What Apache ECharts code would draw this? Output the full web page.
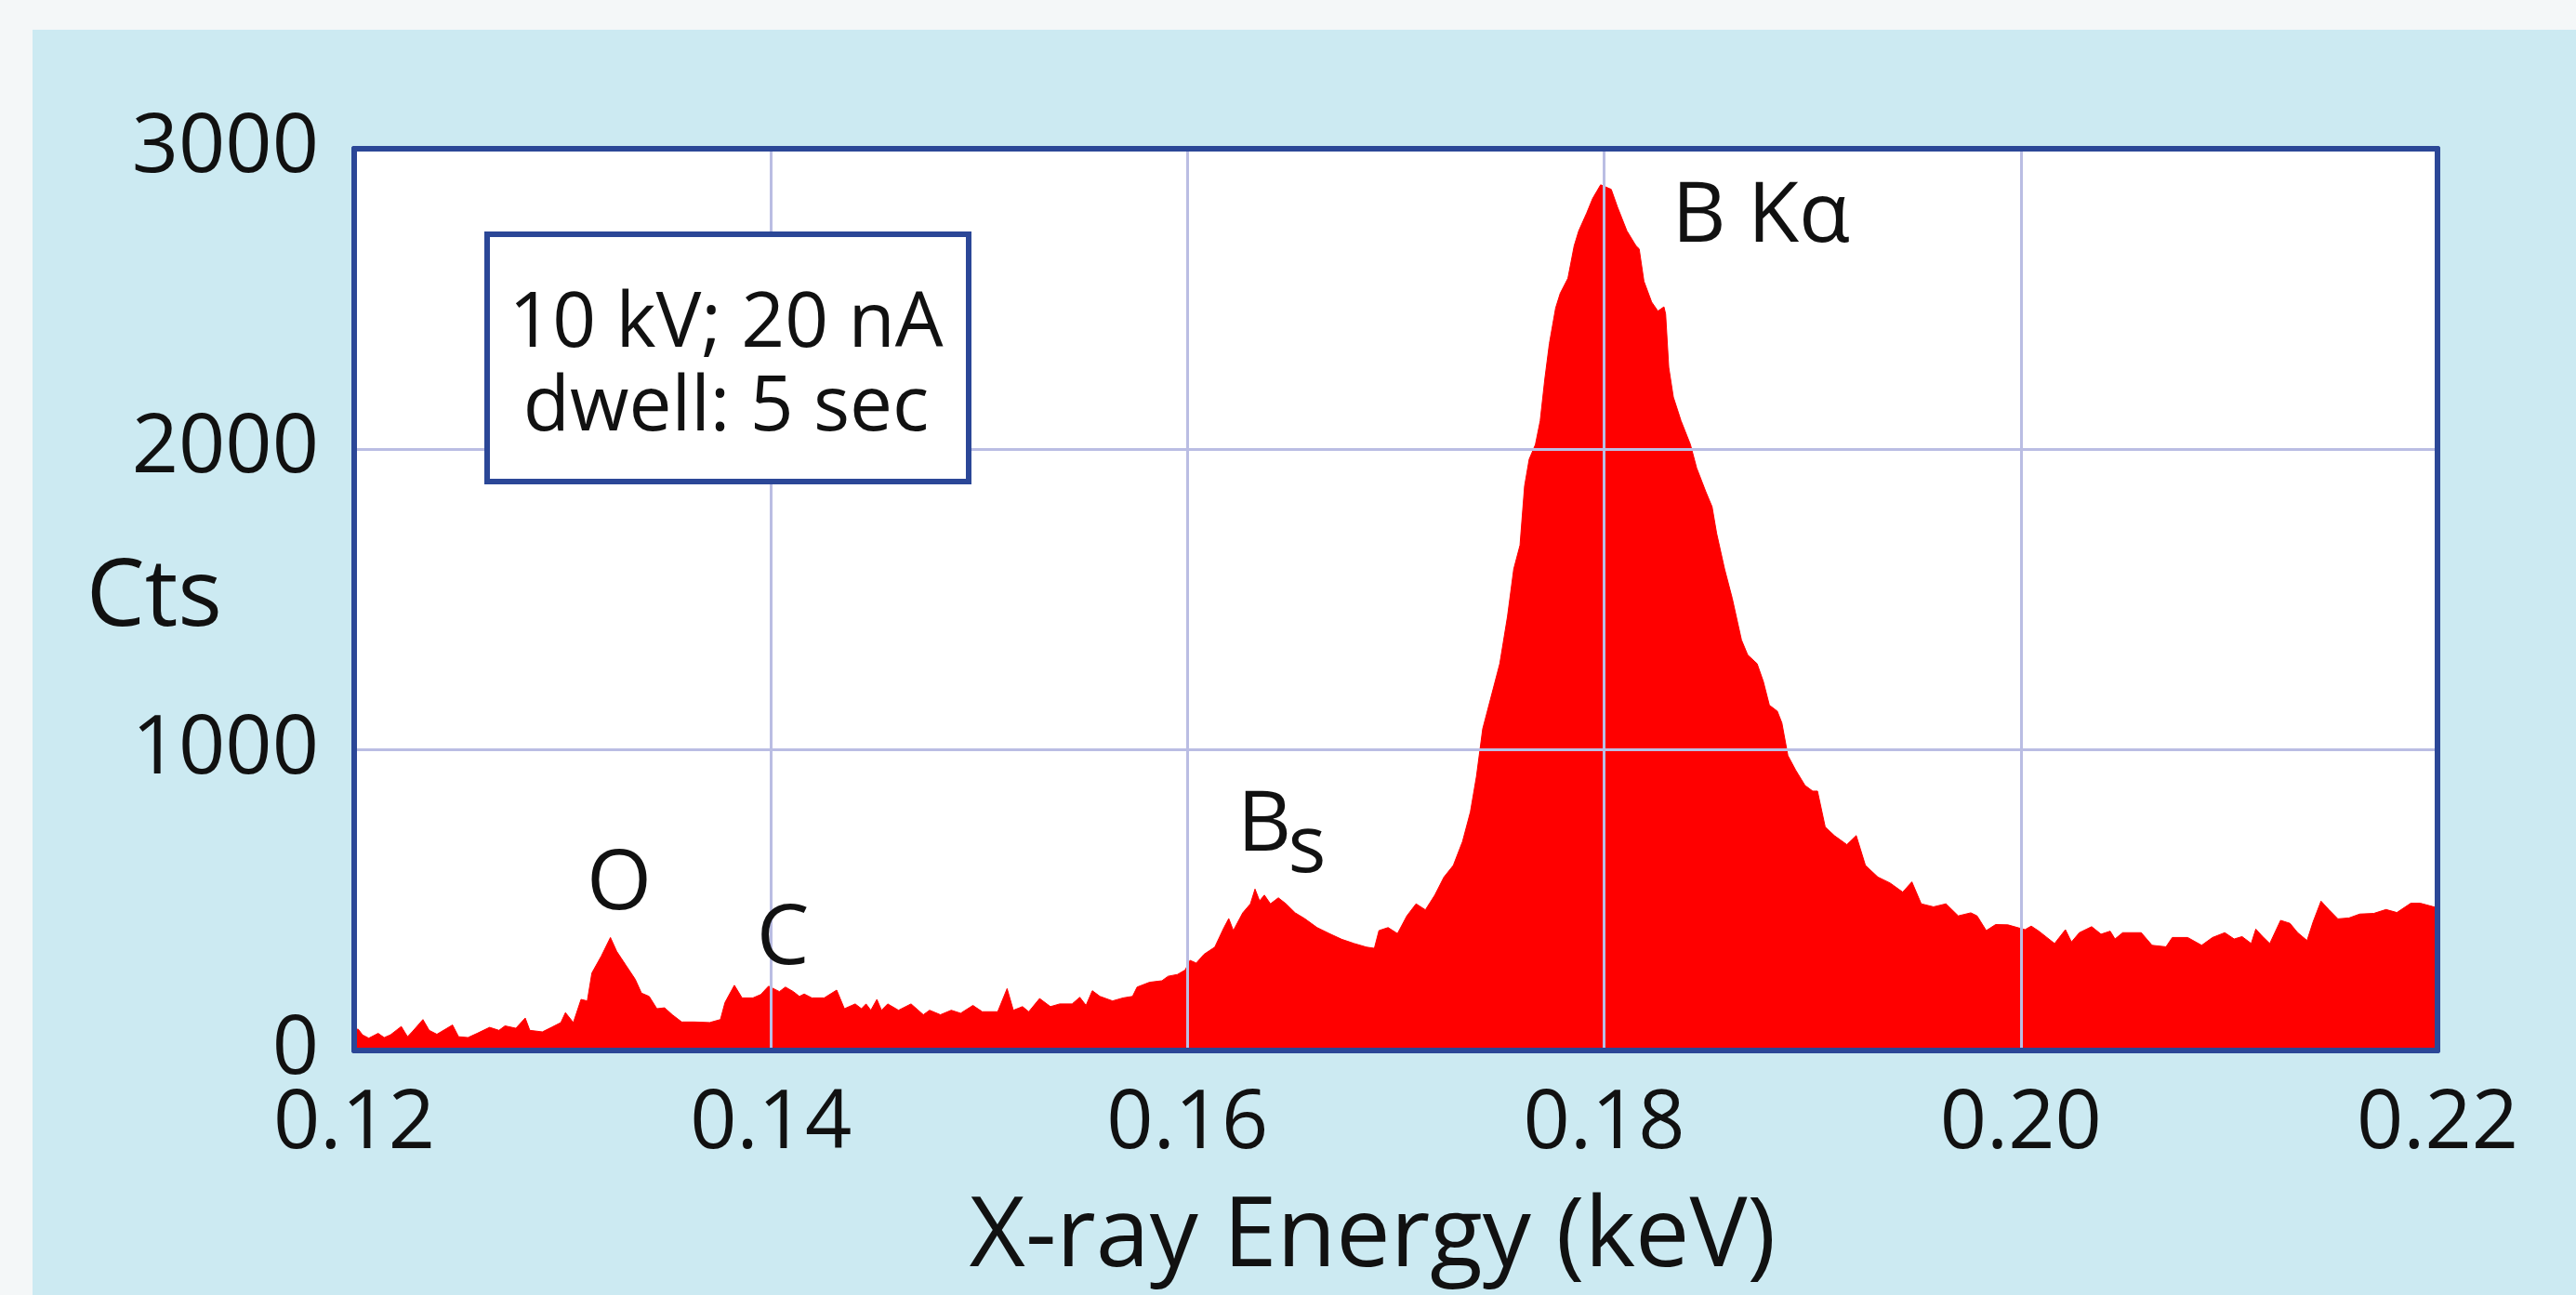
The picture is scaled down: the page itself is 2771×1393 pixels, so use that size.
<!DOCTYPE html>
<html>
<head>
<meta charset="utf-8">
<style>
  html, body { margin: 0; padding: 0; background: #cceaf2; }
  #chart { width: 2771px; height: 1393px; }
</style>
<script src="https://cdn.jsdelivr.net/npm/echarts/dist/echarts.min.js"></script>
</head>
<body>
<div id="chart"></div>
<script>
// ---- Data ----
const energy = [
  0.12000,0.12018,0.12040,0.12070,0.12115,0.12144,0.12174,0.12226,0.12256,0.12278,
  0.12330,0.12360,0.12397,0.12472,0.12501,0.12546,0.12590,0.12650,0.12695,0.12724,
  0.12776,0.12821,0.12843,0.12903,0.12947,0.12992,0.13014,0.13052,0.13089,0.13119,
  0.13141,0.13186,0.13230,0.13260,0.13304,0.13349,0.13379,0.13416,0.13453,0.13490,
  0.13527,0.13572,0.13632,0.13706,0.13758,0.13780,0.13825,0.13862,0.13914,0.13951,
  0.13989,0.14041,0.14070,0.14108,0.14137,0.14160,0.14197,0.14256,0.14316,0.14353,
  0.14405,0.14435,0.14457,0.14480,0.14509,0.14531,0.14561,0.14613,0.14673,0.14732,
  0.14762,0.14814,0.14866,0.14911,0.14970,0.15015,0.15089,0.15134,0.15164,0.15208,
  0.15238,0.15290,0.15342,0.15387,0.15446,0.15483,0.15513,0.15543,0.15580,0.15640,
  0.15691,0.15736,0.15758,0.15818,0.15877,0.15907,0.15952,0.15989,0.16012,0.16042,
  0.16079,0.16131,0.16175,0.16198,0.16220,0.16265,0.16302,0.16324,0.16346,0.16369,
  0.16398,0.16436,0.16473,0.16517,0.16562,0.16622,0.16681,0.16740,0.16800,0.16859,
  0.16897,0.16919,0.16963,0.17008,0.17053,0.17097,0.17142,0.17187,0.17231,0.17276,
  0.17320,0.17358,0.17387,0.17417,0.17454,0.17499,0.17536,0.17566,0.17596,0.17618,
  0.17640,0.17670,0.17693,0.17715,0.17737,0.17767,0.17789,0.17826,0.17856,0.17878,
  0.17916,0.17945,0.17983,0.18034,0.18064,0.18109,0.18153,0.18168,0.18191,0.18228,
  0.18258,0.18287,0.18295,0.18310,0.18332,0.18369,0.18414,0.18444,0.18488,0.18518,
  0.18540,0.18578,0.18615,0.18659,0.18689,0.18734,0.18764,0.18793,0.18831,0.18853,
  0.18882,0.18920,0.18964,0.19001,0.19024,0.19061,0.19105,0.19165,0.19210,0.19254,
  0.19314,0.19373,0.19433,0.19477,0.19522,0.19581,0.19641,0.19700,0.19760,0.19790,
  0.19834,0.19879,0.19938,0.20020,0.20050,0.20087,0.20162,0.20214,0.20243,0.20281,
  0.20340,0.20385,0.20429,0.20452,0.20489,0.20578,0.20630,0.20697,0.20727,0.20801,
  0.20868,0.20920,0.20979,0.21024,0.21062,0.21106,0.21128,0.21158,0.21195,0.21247,
  0.21292,0.21329,0.21374,0.21403,0.21441,0.21478,0.21522,0.21575,0.21627,0.21694,
  0.21753,0.21805,0.21872,0.21917,0.21976,0.22000
];
const counts = [
  60,72,52,41,57,43,52,80,46,62,
  103,67,54,85,46,43,57,77,67,82,
  74,108,67,62,77,93,126,93,170,165,
  258,314,376,330,284,237,191,180,139,142,
  119,95,95,93,103,160,217,175,175,186,
  214,196,211,196,180,188,175,175,201,139,
  155,139,155,134,170,134,155,134,155,119,
  134,119,134,124,150,129,129,206,134,146,
  129,173,146,155,155,177,150,199,180,165,
  175,180,211,227,232,247,253,268,300,291,
  320,344,409,439,399,458,488,537,498,517,
  488,508,488,458,439,409,389,370,356,344,
  340,399,409,389,448,488,468,517,577,616,
  695,794,912,1070,1168,1287,1444,1602,1681,1878,
  1967,2016,2095,2233,2352,2470,2519,2569,2677,2727,
  2786,2835,2880,2865,2806,2727,2677,2667,2559,2490,
  2460,2474,2450,2273,2174,2095,2016,1938,1859,1809,
  1720,1602,1504,1366,1316,1287,1228,1149,1129,1090,
  981,932,882,863,863,744,715,685,715,616,
  577,557,527,561,488,478,488,448,458,448,
  399,419,418,402,414,397,356,402,361,392,
  412,387,397,371,392,392,350,345,376,376,
  350,376,392,371,379,356,404,381,356,433,
  423,392,366,428,497,469,438,441,454,456,
  469,459,490,490,479,475
];
const xTicks = { min: 0.12, max: 0.22, step: 0.02 };
const yTicks = { min: 0, max: 3000, step: 1000 };
const peakLabels = ['B K\u03b1', 'O', 'C', 'B', 's'];
const peakLabelE = [0.18323, 0.13272, 0.14057, 0.16369, 0.16574];
const peakLabelCts = [2771, 548, 367, 744, 670];
const infoText = ['10 kV; 20 nA', 'dwell: 5 sec'];
const xTitle = 'X-ray Energy (keV)';
const yTitle = 'Cts';

// ---- Styles ----
const FONT = '"Open Sans", "Noto Sans", sans-serif';
const BORDER = '#2b4797';
const GRIDC = '#babde3';
const RED = '#ff0000';

const chart = echarts.init(document.getElementById('chart'), null, { renderer: 'canvas' });

const spectrum = energy.map((e, i) => [e, counts[i]]);
const markData = peakLabels.map((t, i) => ({
  coord: [peakLabelE[i], peakLabelCts[i]],
  label: {
    show: true,
    formatter: t,
    position: i === 0 ? 'right' : 'inside',
    distance: 0,
    fontSize: i === 4 ? 86 : 90,
    color: '#111',
    fontFamily: FONT
  }
}));

const option = {
  animation: false,
  backgroundColor: '#cceaf2',
  textStyle: { fontFamily: FONT, color: '#111' },
  grid: {
    left: 381, right: 149, top: 160, bottom: 263,
    containLabel: false, outerBoundsMode: 'none',
    show: true, backgroundColor: '#ffffff', borderWidth: 0
  },
  xAxis: [{
    type: 'value', position: 'bottom', z: 3,
    min: xTicks.min, max: xTicks.max, interval: xTicks.step,
    name: xTitle, nameLocation: 'middle', nameGap: 150, nameMoveOverlap: false,
    nameTextStyle: { fontSize: 104, color: '#111', fontFamily: FONT, padding: [0, 50, 0, 0] },
    axisLine: { show: true, onZero: false, lineStyle: { color: BORDER, width: 6 } },
    axisTick: { show: false },
    axisLabel: { fontSize: 88, margin: 36, color: '#111', fontFamily: FONT,
      formatter: v => v.toFixed(2) },
    splitLine: { show: true, showMinLine: false, showMaxLine: false,
      lineStyle: { color: GRIDC, width: 3 } }
  }, {
    type: 'value', position: 'top', z: 3,
    min: xTicks.min, max: xTicks.max, interval: xTicks.step,
    axisLine: { show: true, onZero: false, lineStyle: { color: BORDER, width: 6 } },
    axisTick: { show: false }, axisLabel: { show: false }, splitLine: { show: false }
  }],
  yAxis: [{
    type: 'value', position: 'left', z: 3,
    min: yTicks.min, max: yTicks.max, interval: yTicks.step,
    name: yTitle, nameLocation: 'middle', nameRotate: 0, nameGap: 142, nameMoveOverlap: false,
    nameTextStyle: { fontSize: 100, color: '#111', fontFamily: FONT },
    axisLine: { show: true, onZero: false, lineStyle: { color: BORDER, width: 6 } },
    axisTick: { show: false },
    axisLabel: { fontSize: 88, margin: 38, color: '#111', fontFamily: FONT,
      formatter: v => String(v) },
    splitLine: { show: true, showMinLine: false, showMaxLine: false,
      lineStyle: { color: GRIDC, width: 3 } }
  }, {
    type: 'value', position: 'right', z: 3,
    min: yTicks.min, max: yTicks.max, interval: yTicks.step,
    axisLine: { show: true, onZero: false, lineStyle: { color: BORDER, width: 6 } },
    axisTick: { show: false }, axisLabel: { show: false }, splitLine: { show: false }
  }],
  series: [{
    type: 'line',
    xAxisIndex: 0, yAxisIndex: 0,
    data: spectrum,
    symbol: 'none',
    lineStyle: { color: RED, width: 1 },
    areaStyle: { color: RED, opacity: 1 },
    z: 2,
    markPoint: {
      z: 6,
      symbol: 'circle', symbolSize: 1,
      itemStyle: { color: 'rgba(0,0,0,0)' },
      label: { show: true, color: '#111', fontFamily: FONT },
      emphasis: { disabled: true },
      data: markData
    }
  }],
  graphic: [
    { type: 'rect', z: -5, silent: true, shape: { x: 0, y: 0, width: 2771, height: 32 },
      style: { fill: '#f4f7f8' } },
    { type: 'rect', z: -5, silent: true, shape: { x: 0, y: 0, width: 35, height: 1393 },
      style: { fill: '#f4f7f8' } },
    { type: 'rect', z: 10, silent: true, shape: { x: 524, y: 252, width: 518, height: 266 },
      style: { fill: '#ffffff', stroke: BORDER, lineWidth: 6 } },
    { type: 'text', z: 11, silent: true, x: 781, y: 395,
      style: { text: infoText.join('\n'), fontSize: 82, fontFamily: FONT, fill: '#111',
        lineHeight: 90, align: 'center', verticalAlign: 'middle' } }
  ]
};
chart.setOption(option);
</script>
</body>
</html>
